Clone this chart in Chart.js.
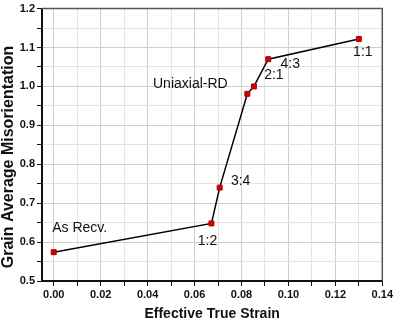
<!DOCTYPE html>
<html>
<head>
<meta charset="utf-8">
<script src="https://cdn.jsdelivr.net/npm/chart.js@4"></script>
<style>
  body { margin: 0; background: #fff; }
  canvas { display: block; }
</style>
</head>
<body>
<canvas id="strainChart" width="395" height="323"></canvas>
<script>
// values
const strain = [0.0, 0.0672, 0.0707, 0.0825, 0.0853, 0.0914, 0.1300];
const misorientation = [0.574, 0.648, 0.740, 0.981, 1.000, 1.070, 1.122];
const pointLabels = ["As Recv.", "1:2", "3:4", "Uniaxial-RD", "2:1", "4:3", "1:1"];
const xTicks = [0, 0.01, 0.02, 0.03, 0.04, 0.05, 0.06, 0.07, 0.08, 0.09, 0.10, 0.11, 0.12, 0.13, 0.14];
const yTicks = [0.5, 0.55, 0.6, 0.65, 0.7, 0.75, 0.8, 0.85, 0.9, 0.95, 1.0, 1.05, 1.1, 1.15, 1.2];
const yTitle = "Grain Average Misorientation";

const FONT = "'Liberation Sans', Arial, sans-serif";

function isMajor(v, step) {
    const r = v / step;
    return Math.abs(r - Math.round(r)) < 1e-6;
}

// frame, y title and point annotations
const extras = {
    id: "extras",
    afterDraw(chart) {
        const ctx = chart.ctx;
        const a = chart.chartArea;
        const xs = chart.scales.x, ys = chart.scales.y;
        ctx.save();
        ctx.strokeStyle = "#555";
        ctx.lineWidth = 1.5;
        ctx.beginPath();
        ctx.moveTo(a.left, a.top);
        ctx.lineTo(a.right, a.top);
        ctx.lineTo(a.right, a.bottom);
        ctx.stroke();

        // y title sits a bit below the plot centre in the original
        ctx.save();
        ctx.translate(9, 157);
        ctx.rotate(-Math.PI / 2);
        ctx.fillStyle = "#111";
        ctx.font = "bold 16px " + FONT;
        ctx.textAlign = "center";
        ctx.textBaseline = "middle";
        ctx.fillText(yTitle, 0, 0);
        ctx.restore();

        // label offsets from each point, in pixels
        const offs = [[26, -24], [-4, 18], [21, -6], [-57, -10], [20, -11], [22, 5], [4, 13]];
        ctx.fillStyle = "#111";
        ctx.font = "14px " + FONT;
        ctx.textAlign = "center";
        ctx.textBaseline = "middle";
        strain.forEach((s, i) => {
            const px = xs.getPixelForValue(s) + offs[i][0];
            const py = ys.getPixelForValue(misorientation[i]) + offs[i][1];
            ctx.fillText(pointLabels[i], px, py);
        });
        ctx.restore();
    }
};

const ctx = document.getElementById("strainChart").getContext("2d");
new Chart(ctx, {
    type: "scatter",
    data: {
        datasets: [{
            data: strain.map((s, i) => ({ x: s, y: misorientation[i] })),
            showLine: true,
            borderColor: "#000",
            borderWidth: 1.5,
            pointStyle: "rect",
            pointRadius: 3.5,
            pointBackgroundColor: "#d00000",
            pointBorderColor: "#b00000",
            pointBorderWidth: 1
        }]
    },
    options: {
        responsive: false,
        animation: false,
        layout: { padding: { top: 6, right: 12, left: 0, bottom: 0 } },
        plugins: {
            legend: { display: false },
            tooltip: { enabled: false }
        },
        scales: {
            x: {
                type: "linear",
                min: -0.005,
                max: 0.14,
                afterBuildTicks: scale => { scale.ticks = xTicks.map(v => ({ value: v })); },
                afterFit: scale => { scale.height = 42; },
                ticks: {
                    autoSkip: false,
                    maxRotation: 0,
                    padding: 2,
                    color: "#111",
                    font: { family: FONT, size: 11, weight: "bold" },
                    callback: v => isMajor(v, 0.02) ? v.toFixed(2) : ""
                },
                grid: {
                    color: c => isMajor(c.tick.value, 0.02) ? "#cfcfcf" : "#e4e4e4",
                    tickColor: "#111",
                    tickLength: 5,
                    lineWidth: 1
                },
                border: { color: "#111", width: 2 },
                title: {
                    display: true,
                    text: "Effective True Strain",
                    color: "#111",
                    font: { family: FONT, size: 14, weight: "bold" },
                    padding: { top: 4, bottom: 0 }
                }
            },
            y: {
                type: "linear",
                min: 0.5,
                max: 1.2,
                afterBuildTicks: scale => { scale.ticks = yTicks.map(v => ({ value: v })); },
                afterFit: scale => { scale.width = 42; },
                ticks: {
                    autoSkip: false,
                    padding: 2,
                    color: "#111",
                    font: { family: FONT, size: 11, weight: "bold" },
                    callback: v => isMajor(v, 0.1) ? v.toFixed(1) : ""
                },
                grid: {
                    color: c => isMajor(c.tick.value, 0.1) ? "#cfcfcf" : "#e4e4e4",
                    tickColor: "#111",
                    tickLength: 5,
                    lineWidth: 1
                },
                border: { color: "#111", width: 2 },
                title: { display: false }
            }
        }
    },
    plugins: [extras]
});
</script>
</body>
</html>
